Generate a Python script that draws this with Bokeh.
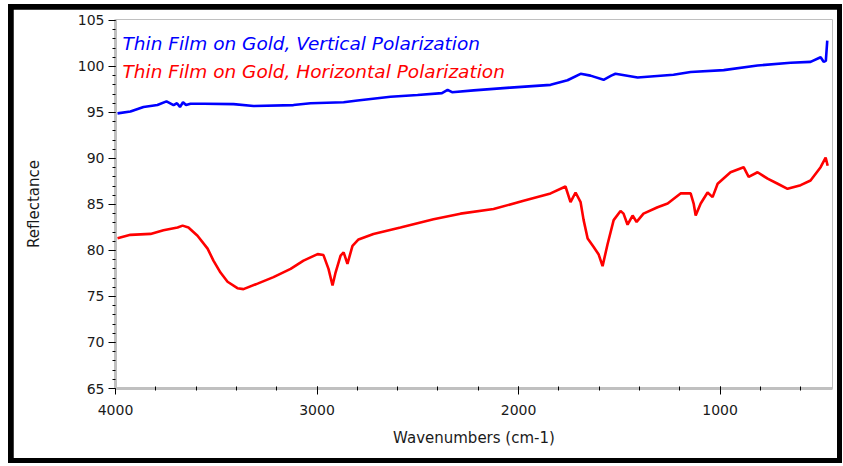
from bokeh.plotting import figure
from bokeh.layouts import column
from bokeh.models import Range1d, Label, FixedTicker
from bokeh.embed import file_html
from bokeh.resources import INLINE

# Wavenumbers (cm-1) and reflectance (%)
blue_wn = [3990, 3926, 3861, 3792, 3747, 3712, 3695, 3680, 3665, 3650, 3628, 3560, 3414,
           3315, 3117, 3032, 2868, 2799, 2635, 2501, 2380, 2352, 2330, 2223, 2040, 1841,
           1757, 1692, 1643, 1578, 1540, 1519, 1409, 1231, 1146, 982, 814, 650, 551, 501,
           486, 475, 468]
blue_r = [94.9, 95.1, 95.6, 95.8, 96.2, 95.8, 96.0, 95.6, 96.1, 95.8, 95.95, 95.95, 95.9,
          95.7, 95.8, 96.0, 96.1, 96.3, 96.7, 96.9, 97.1, 97.45, 97.2, 97.4, 97.7, 98.0,
          98.5, 99.2, 99.0, 98.55, 99.0, 99.2, 98.8, 99.1, 99.4, 99.6, 100.1, 100.4, 100.5,
          101.0, 100.5, 100.6, 102.8]

red_wn = [3990, 3926, 3826, 3762, 3692, 3667, 3638, 3593, 3543, 3514, 3479, 3444, 3395,
          3365, 3295, 3216, 3131, 3067, 2997, 2968, 2943, 2923, 2908, 2883, 2868, 2849,
          2824, 2794, 2720, 2586, 2422, 2288, 2124, 1975, 1841, 1767, 1742, 1717, 1692,
          1677, 1657, 1628, 1603, 1583, 1558, 1528, 1494, 1479, 1459, 1434, 1414, 1380,
          1310, 1260, 1196, 1146, 1131, 1121, 1096, 1062, 1037, 1012, 948, 883, 858, 814,
          764, 714, 665, 600, 551, 501, 476, 466]
red_r = [81.34, 81.7, 81.8, 82.2, 82.5, 82.7, 82.5, 81.6, 80.2, 78.9, 77.6, 76.6, 75.9,
         75.8, 76.4, 77.1, 78.0, 78.9, 79.6, 79.5, 78.0, 76.2, 77.6, 79.45, 79.8, 78.55,
         80.5, 81.2, 81.8, 82.5, 83.4, 84.0, 84.5, 85.4, 86.2, 86.95, 85.25, 86.3, 85.25,
         83.3, 81.3, 80.4, 79.6, 78.3, 80.7, 83.3, 84.3, 84.0, 82.8, 83.8, 83.1, 84.0,
         84.7, 85.1, 86.2, 86.2, 85.1, 83.8, 85.1, 86.3, 85.8, 87.25, 88.5, 89.05, 88.0,
         88.5, 87.8, 87.25, 86.7, 87.1, 87.6, 89.05, 90.1, 89.2]

x_ticks = [1000, 2000, 3000, 4000]
y_ticks = [65, 70, 75, 80, 85, 90, 95, 100, 105]
series_labels = ["Thin Film on Gold, Vertical Polarization",
                 "Thin Film on Gold, Horizontal Polarization"]
series_colors = ["#0000ff", "#ff0000"]

p = figure(width=824, height=449,
           x_range=Range1d(4000, 442), y_range=Range1d(65, 105.1),
           output_backend="svg", toolbar_location=None,
           min_border_left=102, min_border_right=5, min_border_top=10,
           min_border_bottom=70)
p.margin = (5, 5, 5, 5)
p.outline_line_color = None
p.background_fill_color = "white"
p.border_fill_color = "white"
p.xgrid.visible = False
p.ygrid.visible = False

p.line(blue_wn, blue_r, line_color=series_colors[0], line_width=2.6)
p.line(red_wn, red_r, line_color=series_colors[1], line_width=2.6)

p.xaxis.ticker = FixedTicker(ticks=x_ticks,
                             minor_ticks=list(range(400, 4001, 200)))
p.yaxis.ticker = FixedTicker(ticks=y_ticks, minor_ticks=list(range(65, 106)))

for ax in (p.xaxis[0], p.yaxis[0]):
    ax.axis_line_color = "#c0c0c0"
    ax.axis_line_width = 3
    ax.major_tick_line_color = "black"
    ax.minor_tick_line_color = "black"
    ax.major_tick_line_width = 1
    ax.minor_tick_line_width = 1
    ax.major_label_text_font = "DejaVu Sans"
    ax.major_label_text_font_size = "14px"
    ax.major_label_text_color = "#1a1a1a"
    ax.axis_label_text_font = "DejaVu Sans"
    ax.axis_label_text_font_size = "15px"
    ax.axis_label_text_font_style = "normal"
    ax.axis_label_text_color = "#1a1a1a"

p.xaxis.axis_label = "Wavenumbers (cm-1)"
p.yaxis.axis_label = "Reflectance"
p.xaxis.major_tick_out = 6
p.xaxis.major_tick_in = 2
p.xaxis.minor_tick_out = 2
p.xaxis.minor_tick_in = 2
p.xaxis.major_label_standoff = 10
p.xaxis.axis_label_standoff = 11
p.yaxis.major_tick_out = 7
p.yaxis.major_tick_in = 0
p.yaxis.minor_tick_out = 3
p.yaxis.minor_tick_in = 0
p.yaxis.major_label_standoff = 4
p.yaxis.axis_label_standoff = 32

for lbl, col, yy in zip(series_labels, series_colors, [102.5, 99.45]):
    p.add_layout(Label(x=3965, y=yy, text=lbl, text_color=col,
                       text_font="DejaVu Sans", text_font_size="18.5px",
                       text_font_style="italic", text_baseline="alphabetic"))

frame = column(p, styles={"background-color": "black"})
frame.margin = (4, 1, 3, 8)

open("out.html", "w").write(file_html(frame, INLINE))
